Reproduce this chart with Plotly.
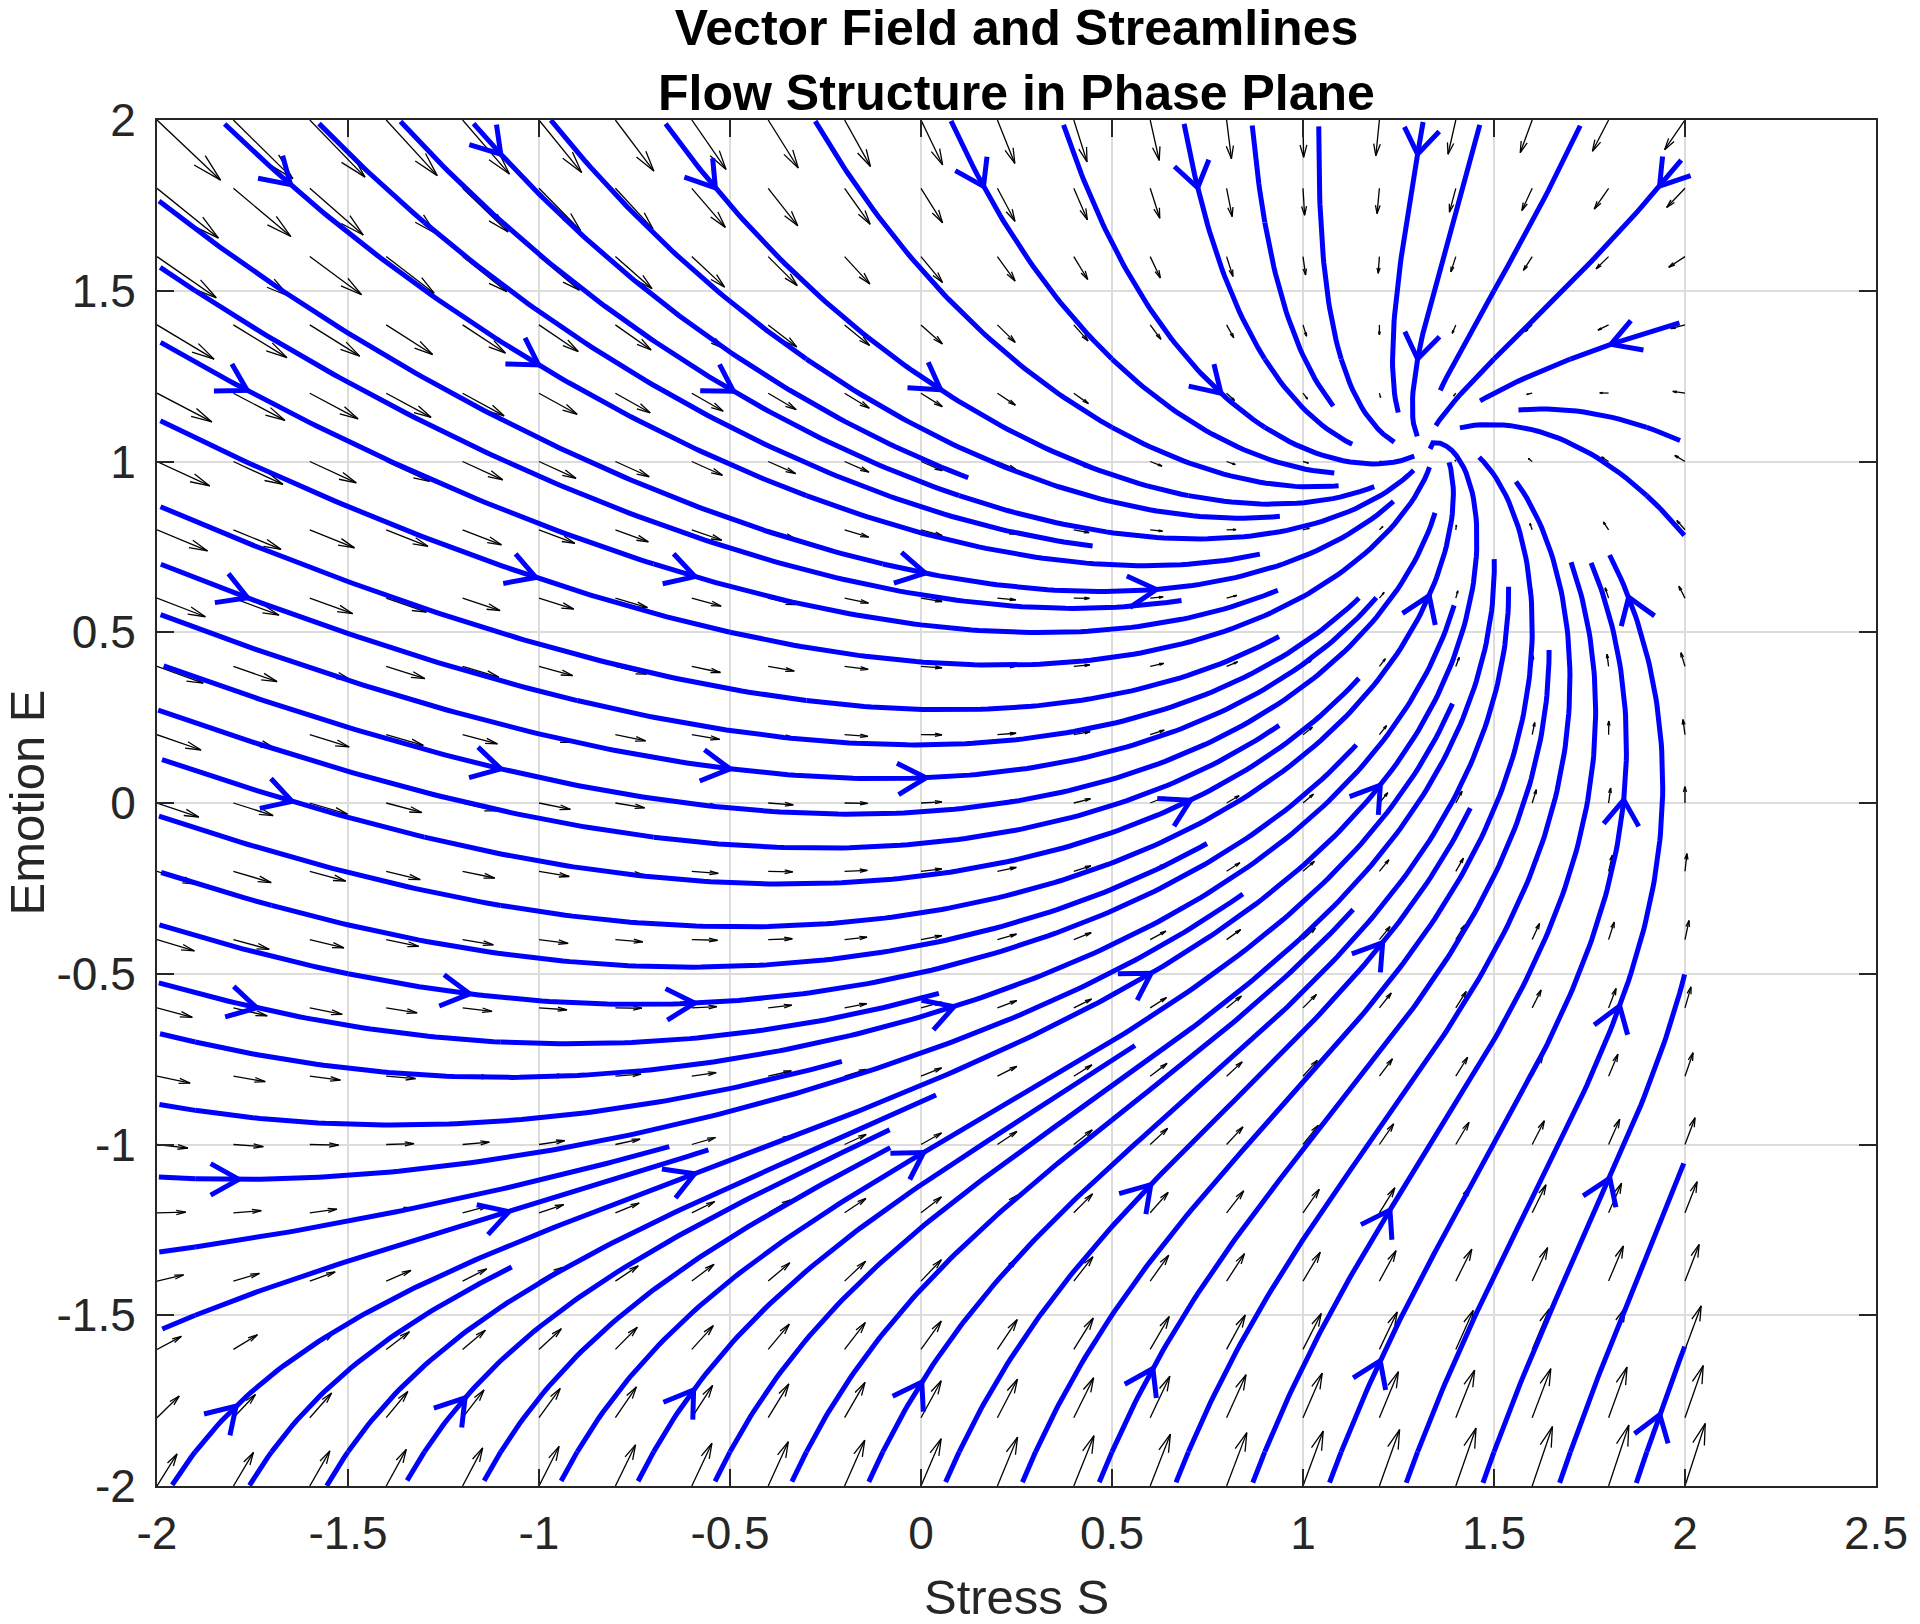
import numpy as np
import plotly.graph_objects as go
import plotly.figure_factory as ff

# Phase-plane model, coefficients read off the arrow field
# dS/dt = a0 + a1*S + a2*S*E + a3*E
stress_coef = [3.97, -1.99, -1.0, 0.07]
# dE/dt = b0 + b1*S + b2*E + b3*E^3
emotion_coef = [0.252, 1.62, -1.30, -0.90]

# sampling grid of the quiver (21 x 21 points)
grid_s = np.linspace(-2, 2, 21)
grid_e = np.linspace(-2, 2, 21)

x_ticks = [-2, -1.5, -1, -0.5, 0, 0.5, 1, 1.5, 2, 2.5]
x_tick_text = ['-2', '-1.5', '-1', '-0.5', '0', '0.5', '1', '1.5', '2', '2.5']
y_ticks = [-2, -1.5, -1, -0.5, 0, 0.5, 1, 1.5, 2]
y_tick_text = ['-2', '-1.5', '-1', '-0.5', '0', '0.5', '1', '1.5', '2']


def field(s, e):
    u = stress_coef[0] + stress_coef[1]*s + stress_coef[2]*s*e + stress_coef[3]*e
    v = emotion_coef[0] + emotion_coef[1]*s + emotion_coef[2]*e + emotion_coef[3]*e**3
    return u, v


S, E = np.meshgrid(grid_s, grid_e)
U, V = field(S, E)

# quiver autoscale, same rule as matlab's quiver
delx = (grid_s[-1] - grid_s[0]) / len(grid_s)
dely = (grid_e[-1] - grid_e[0]) / len(grid_e)
maxlen = np.sqrt((U**2 + V**2) / (delx**2 + dely**2)).max()
qscale = 0.9 / maxlen

fig = ff.create_quiver(S.ravel(), E.ravel(), U.ravel(), V.ravel(),
                       scale=qscale, arrow_scale=0.34, angle=np.arctan(0.25),
                       line=dict(color='black', width=1.3),
                       hoverinfo='skip', showlegend=False)

# --- streamslice-like evenly spaced streamlines ---
lo, hi = grid_s[0], grid_s[-1]
rng = hi - lo
n_start, n_end = 20, 80
step = 0.1 * rng / len(grid_s)


def cell(val, n):
    return min(max(int((val - lo) / rng * n), 0), n - 1)


def trace(s, e, sign):
    pts = [(s, e)]
    for _ in range(4000):
        u, v = field(s, e)
        m = np.hypot(u, v)
        if m < 1e-9:
            break
        sm = s + 0.5*step*sign*u/m
        em = e + 0.5*step*sign*v/m
        u2, v2 = field(sm, em)
        m2 = np.hypot(u2, v2)
        if m2 < 1e-9:
            break
        s = s + step*sign*u2/m2
        e = e + step*sign*v2/m2
        if s < lo or s > hi or e < lo or e > hi:
            break
        pts.append((s, e))
    return pts


startgrid = np.zeros((n_start, n_start), bool)
endgrid = np.zeros((n_end, n_end), bool)
arrowgrid = np.ones((n_start, n_start), bool)
arrowgrid[1::3, 1::3] = False

arm_len = 0.087
arm_ang = np.radians(32)

line_x, line_y = [], []
arr_x, arr_y = [], []

for r in range(n_start):
    for c in range(n_start):
        if startgrid[r, c]:
            continue
        startgrid[r, c] = True
        s0 = lo + (c + 0.5) * rng / n_start
        e0 = lo + (r + 0.5) * rng / n_start
        for sign in (1, -1):
            pts = trace(s0, e0, sign)
            kept = []
            prev = None
            for j, (s, e) in enumerate(pts):
                ce = (cell(e, n_end), cell(s, n_end))
                if j > 0 and endgrid[ce] and ce != prev:
                    break
                endgrid[ce] = True
                prev = ce
                cs = (cell(e, n_start), cell(s, n_start))
                startgrid[cs] = True
                kept.append((s, e))
                if not arrowgrid[cs]:
                    arrowgrid[cs] = True
                    u, v = field(s, e)
                    m = np.hypot(u, v)
                    du, dv = u/m, v/m
                    # V-shaped head: two arms behind the tip
                    b1 = (-(du*np.cos(arm_ang) - dv*np.sin(arm_ang)),
                          -(du*np.sin(arm_ang) + dv*np.cos(arm_ang)))
                    b2 = (-(du*np.cos(arm_ang) + dv*np.sin(arm_ang)),
                          -(-du*np.sin(arm_ang) + dv*np.cos(arm_ang)))
                    arr_x += [s + arm_len*b1[0], s, s + arm_len*b2[0], None]
                    arr_y += [e + arm_len*b1[1], e, e + arm_len*b2[1], None]
            if len(kept) > 1:
                if sign < 0:
                    kept = kept[::-1]
                line_x += [p[0] for p in kept] + [None]
                line_y += [p[1] for p in kept] + [None]

fig.add_trace(go.Scatter(x=line_x, y=line_y, mode='lines',
                         line=dict(color='#0000ff', width=5),
                         hoverinfo='skip', showlegend=False))
fig.add_trace(go.Scatter(x=arr_x, y=arr_y, mode='lines',
                         line=dict(color='#0000ff', width=5),
                         hoverinfo='skip', showlegend=False))

axis_common = dict(
    showgrid=True, gridcolor='#dcdcdc', gridwidth=1.5,
    zeroline=False, showline=True, linecolor='#262626', linewidth=2,
    mirror='ticks', ticks='inside', ticklen=17, tickwidth=2, tickcolor='#262626',
    tickfont=dict(family='Liberation Sans, Arial', size=46, color='#262626'),
)

fig.update_layout(
    width=1920, height=1624,
    margin=dict(l=157, r=37, t=120, b=138),
    plot_bgcolor='white', paper_bgcolor='white',
    showlegend=False,
    title=dict(
        text='<b>Vector Field and Streamlines</b><br><b>Flow Structure in Phase Plane</b>',
        x=0.5, xref='paper', xanchor='center',
        y=1 - 45 / 1624, yref='container', yanchor='middle',
        font=dict(family='Liberation Sans, Arial', size=50, color='black'),
    ),
    xaxis=dict(range=[-2, 2.5], tickvals=x_ticks, ticktext=x_tick_text,
               ticklabelstandoff=6, **axis_common),
    yaxis=dict(range=[-2, 2], tickvals=y_ticks, ticktext=y_tick_text,
               ticklabelstandoff=10, **axis_common),
    annotations=[
        dict(text='Stress S', x=0.5, y=-111 / 1366, xref='paper', yref='paper',
             xanchor='center', yanchor='middle', showarrow=False,
             font=dict(family='Liberation Sans, Arial', size=49, color='#262626')),
        dict(text='Emotion E', x=-131 / 1726, y=0.5, xref='paper', yref='paper',
             xanchor='center', yanchor='middle', showarrow=False, textangle=-90,
             font=dict(family='Liberation Sans, Arial', size=49, color='#262626')),
    ],
)

fig.write_html("out.html", config={'displayModeBar': False},
               post_script="document.body.style.margin='0';")
